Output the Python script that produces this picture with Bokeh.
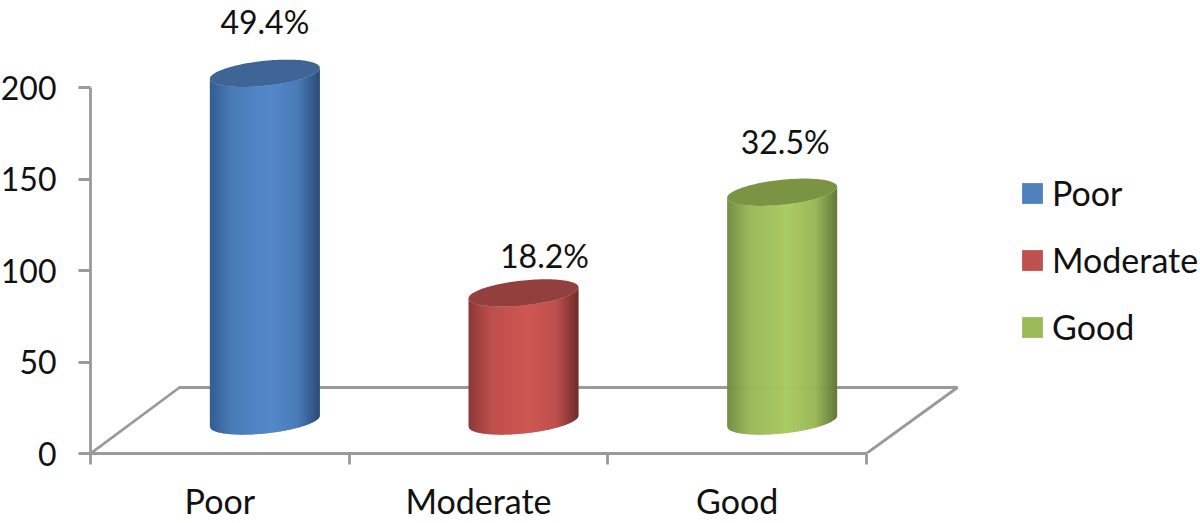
import numpy as np
from bokeh.embed import file_html
from bokeh.resources import INLINE
from bokeh.plotting import figure
from bokeh.models import Range1d, FixedTicker, Legend, LegendItem, ColumnDataSource
from bokeh.core.properties import value

categories = ["Poor", "Moderate", "Good"]
counts = [190, 70, 125]
percent_labels = ["49.4%", "18.2%", "32.5%"]
y_ticks = [0, 50, 100, 150, 200]
legend_colors = ["#4f81bd", "#c0504d", "#9bbb59"]
edge_left = ["#335c8e", "#8a3836", "#708a3f"]
edge_right = ["#2b4a76", "#6f2c2a", "#5e7433"]
mid_colors = ["#4a7cb9", "#bd4f4c", "#98b856"]
light_colors = ["#5488c9", "#cf5753", "#a9c95f"]
cap_colors = ["#3e6595", "#933f3d", "#7b9444"]

FONT = "Lato"
TEXT = "#111111"
AXIS = "#9a9a9a"
W, H = 1200, 523
AX_L, AX_B = 89, 453
X_UNIT = (866 - 90) / 3          # px per category
Y_UNIT = 366 / 200               # px per count

p = figure(frame_width=W - AX_L, frame_height=AX_B, output_backend="svg", toolbar_location=None,
           x_range=Range1d(0, (W - AX_L) / X_UNIT),
           y_range=Range1d(0, AX_B / Y_UNIT),
           min_border_left=AX_L, min_border_right=0, min_border_top=0,
           min_border_bottom=H - AX_B, outline_line_color=None,
           background_fill_color=None, border_fill_color=None)
p.styles = {"margin": "0 0 0 -3px"}
p.grid.visible = False

# ---- axes
yax = p.yaxis[0]
yax.ticker = FixedTicker(ticks=y_ticks)
yax.bounds = (0, 200)
yax.axis_line_color = AXIS; yax.axis_line_width = 2.8
yax.major_tick_line_color = AXIS; yax.major_tick_line_width = 2.8
yax.major_tick_out = 12; yax.major_tick_in = 0
yax.minor_tick_line_color = None
yax.minor_tick_out = 0; yax.minor_tick_in = 0
yax.major_label_text_font = FONT
yax.major_label_text_font_size = "32px"
yax.major_label_text_color = TEXT
yax.major_label_standoff = 22

xax = p.xaxis[0]
centers = [i + 0.5 for i in range(len(categories))]
xax.ticker = FixedTicker(ticks=centers, minor_ticks=list(range(len(categories) + 1)))
xax.major_label_overrides = {c: n for c, n in zip(centers, categories)}
xax.bounds = (0, 3)
xax.axis_line_color = AXIS; xax.axis_line_width = 2.8
xax.major_tick_line_color = None
xax.major_tick_out = 0; xax.major_tick_in = 0
xax.minor_tick_line_color = AXIS; xax.minor_tick_line_width = 2.8
xax.minor_tick_out = 11; xax.minor_tick_in = 0
xax.major_label_text_font = FONT
xax.major_label_text_font_size = "34px"
xax.major_label_text_color = TEXT
xax.major_label_standoff = 15

# ---- floor plane
DX = 89 / X_UNIT
DX_R = 91 / X_UNIT
DY = 66 / Y_UNIT
p.line([0, DX, 3 + DX_R, 3], [0, DY, DY, 0], line_color=AXIS, line_width=2.8)

# ---- cylinders
BAR_W = 110 / X_UNIT
BASE = (453 - 420.5) / Y_UNIT
TILT = 5.5 / Y_UNIT
B = 12.5 / Y_UNIT
CENTER_OFFSET = 0.5 + 45 / X_UNIT


def hex2rgb(h):
    return np.array([int(h[i:i + 2], 16) for i in (1, 3, 5)], float)


def shade(t, i):
    stops = [0.0, 0.2, 0.55, 0.8, 1.0]
    cols = [edge_left[i], mid_colors[i], light_colors[i], mid_colors[i], edge_right[i]]
    rgb = [np.interp(t, stops, [hex2rgb(c)[k] for c in cols]) for k in range(3)]
    return "#%02x%02x%02x" % tuple(int(round(v)) for v in rgb)


N = 110
for i, v in enumerate(counts):
    cx = i + CENTER_OFFSET
    top = BASE + v
    xs_all, ys_all, cols = [], [], []
    edges = np.linspace(-1, 1, N + 1)
    for j in range(N):
        u0, u1 = edges[j], min(edges[j + 1] + 0.012, 1)
        us = np.linspace(u0, u1, 3)
        arc = B * np.sqrt(np.clip(1 - us ** 2, 0, 1))
        upper = top + TILT * us - arc
        lower = BASE + TILT * us - arc
        xs_all.append(list(cx + us * BAR_W / 2) + list(cx + us[::-1] * BAR_W / 2))
        ys_all.append(list(upper) + list(lower[::-1]))
        cols.append(shade((j + 0.5) / N, i))
    p.patches(xs_all, ys_all, fill_color=cols, line_color=None)
    t = np.linspace(0, 2 * np.pi, 121)
    p.patch(cx + np.cos(t) * BAR_W / 2, top + TILT * np.cos(t) + B * np.sin(t),
            fill_color=cap_colors[i], line_color=None)

# ---- data labels
label_dx = [0, 21, 3]            # px, labels were placed by hand
label_dy = [52, 37, 51]          # px above the cylinder top
src = ColumnDataSource(dict(
    x=[i + CENTER_OFFSET for i in range(3)],
    y=[BASE + v + d / Y_UNIT for v, d in zip(counts, label_dy)],
    t=percent_labels, dx=label_dx))
p.text("x", "y", text="t", x_offset="dx", source=src, text_align="center",
       text_baseline="middle", text_font=value(FONT), text_font_size="32px",
       text_color=TEXT)

# ---- legend
items = []
for name, c in zip(categories, legend_colors):
    r = p.quad(left=[np.nan], right=[np.nan], top=[np.nan], bottom=[np.nan],
               fill_color=c, line_color=None)
    items.append(LegendItem(label=value(name), renderers=[r]))
leg = Legend(items=items, location=(1021 - AX_L - 3, 453 - 347),
             orientation="vertical", glyph_width=26, glyph_height=26,
             spacing=26, padding=0, margin=0, label_standoff=7,
             label_text_font=FONT, label_text_font_size="34px",
             label_text_color=TEXT, label_height=26,
             background_fill_color=None, border_line_color=None)
p.add_layout(leg)

open("out.html", "w").write(file_html(p, INLINE))
